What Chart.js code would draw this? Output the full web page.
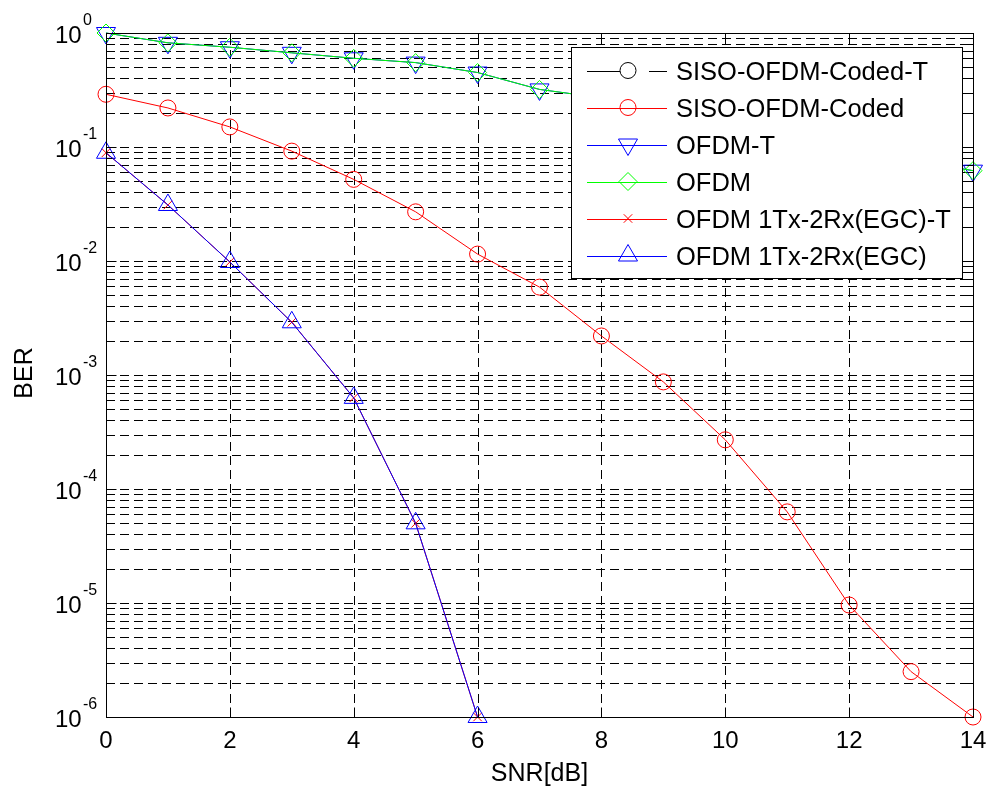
<!DOCTYPE html>
<html>
<head>
<meta charset="utf-8">
<script src="https://cdn.jsdelivr.net/npm/chart.js@4.4.1/dist/chart.umd.min.js"></script>
<style>
  html, body { margin: 0; padding: 0; background: #fff; }
  canvas { display: block; }
</style>
</head>
<body>
<canvas id="graph" width="989" height="787"></canvas>
<script>
// SNR axis (dB)
const snr = [0, 1, 2, 3, 4, 5, 6, 7, 8, 9, 10, 11, 12, 13, 14];
const snrEgc = [0, 1, 2, 3, 4, 5, 6];

// BER
const berCodedT = [0.29, 0.22, 0.15, 0.092, 0.052, 0.027, 0.0115, 0.0059, 0.0022, 0.00087, 0.00027, 6.3e-5, 9.6e-6, 2.5e-6, 1e-6];
const berCoded  = [0.29, 0.22, 0.15, 0.092, 0.052, 0.027, 0.0115, 0.0059, 0.0022, 0.00087, 0.00027, 6.3e-5, 9.6e-6, 2.5e-6, 1e-6];
const berOfdmT  = [1.0, 0.82, 0.75, 0.67, 0.60, 0.55, 0.45, 0.32, 0.27, 0.21, 0.16, 0.12, 0.095, 0.077, 0.062];
const berOfdm   = [1.0, 0.82, 0.75, 0.67, 0.60, 0.55, 0.45, 0.32, 0.27, 0.21, 0.16, 0.12, 0.095, 0.077, 0.062];
const berEgcT   = [0.089, 0.031, 0.0098, 0.0029, 0.00063, 5e-5, 1e-6];
const berEgc    = [0.089, 0.031, 0.0098, 0.0029, 0.00063, 5e-5, 1e-6];

// axes ticks
const xTicks = [0, 2, 4, 6, 8, 10, 12, 14];
const yExponents = [0, -1, -2, -3, -4, -5, -6];
const yMantissas = [1, 2, 3, 4, 5, 6, 7, 8, 9];
const xTitle = "SNR[dB]";
const yTitle = "BER";

const FONT = '"Liberation Sans", Arial, Helvetica, sans-serif';
const NONE = "rgba(0,0,0,0)";

function pts(xs, ys) {
  return ys.map((v, i) => ({ x: xs[i], y: v }));
}

function series(label, xs, ys, color, style, radius, rotation, order, dash) {
  return {
    label,
    data: pts(xs, ys),
    borderColor: color,
    backgroundColor: NONE,
    borderWidth: 1,
    borderDash: dash || [],
    pointStyle: style,
    pointRadius: radius,
    pointHoverRadius: radius,
    pointRotation: rotation,
    pointBorderColor: color,
    pointBackgroundColor: NONE,
    pointBorderWidth: 1,
    tension: 0,
    fill: false,
    clip: false,
    order
  };
}

const codedT = series("SISO-OFDM-Coded-T", snr, berCodedT, "#000000", "circle", 8, 0, 6, [33, 29]);
// lies exactly under the red curve in the picture, so it only shows in the legend
codedT.hidden = true;

const datasets = [
  codedT,
  series("SISO-OFDM-Coded", snr, berCoded, "#ff0000", "circle", 8, 0, 5),
  series("OFDM-T", snr, berOfdmT, "#0000ff", "triangle", 11, 180, 4),
  series("OFDM", snr, berOfdm, "#00ff00", "rectRot", 9, 0, 3),
  series("OFDM 1Tx-2Rx(EGC)-T", snrEgc, berEgcT, "#ff0000", "crossRot", 6, 0, 2),
  series("OFDM 1Tx-2Rx(EGC)", snrEgc, berEgc, "#0000ff", "triangle", 11, 0, 1)
];

function yGridValues() {
  const out = [];
  yExponents.forEach(k => yMantissas.forEach(m => {
    const v = m * Math.pow(10, k);
    if (v <= 1.0000001) out.push(v);
  }));
  return out;
}

// MATLAB-like axes: dashed grid, box, inward ticks, 10^n labels, legend
const matlabAxes = {
  id: "matlabAxes",
  beforeDatasetsDraw(chart) {
    const { ctx, chartArea: a, scales: { x, y } } = chart;
    ctx.save();
    ctx.strokeStyle = "#000";
    ctx.lineWidth = 1;
    ctx.setLineDash([9, 5]);
    ctx.beginPath();
    yGridValues().forEach(v => {
      const py = Math.round(y.getPixelForValue(v)) + 0.5;
      if (py < a.top + 2 || py > a.bottom - 2) return;
      ctx.moveTo(a.left, py);
      ctx.lineTo(a.right, py);
    });
    xTicks.forEach(v => {
      const px = Math.round(x.getPixelForValue(v)) + 0.5;
      if (px < a.left + 2 || px > a.right - 2) return;
      ctx.moveTo(px, a.bottom);
      ctx.lineTo(px, a.top);
    });
    ctx.stroke();
    ctx.restore();
  },
  afterDatasetsDraw(chart) {
    const { ctx, chartArea: a, scales: { x, y } } = chart;
    const L = Math.round(a.left) + 0.5, R = Math.round(a.right) + 0.5;
    const T = Math.round(a.top) + 0.5, B = Math.round(a.bottom) + 0.5;
    ctx.save();
    ctx.setLineDash([]);
    ctx.strokeStyle = "#000";
    ctx.lineWidth = 1;
    ctx.strokeRect(L, T, R - L, B - T);

    // inward ticks
    ctx.beginPath();
    yGridValues().forEach(v => {
      const py = Math.round(y.getPixelForValue(v)) + 0.5;
      const len = Math.abs(Math.log10(v) - Math.round(Math.log10(v))) < 1e-6 ? 10 : 6;
      ctx.moveTo(L, py); ctx.lineTo(L + len, py);
      ctx.moveTo(R, py); ctx.lineTo(R - len, py);
    });
    xTicks.forEach(v => {
      const px = Math.round(x.getPixelForValue(v)) + 0.5;
      ctx.moveTo(px, B); ctx.lineTo(px, B - 10);
      ctx.moveTo(px, T); ctx.lineTo(px, T + 10);
    });
    ctx.stroke();

    // tick labels
    ctx.fillStyle = "#000";
    ctx.textBaseline = "alphabetic";
    ctx.textAlign = "center";
    ctx.font = "24px " + FONT;
    xTicks.forEach(v => {
      ctx.fillText(String(v), x.getPixelForValue(v), 748);
    });
    yExponents.forEach(k => {
      const py = y.getPixelForValue(Math.pow(10, k));
      ctx.textAlign = "left";
      ctx.font = "24px " + FONT;
      ctx.fillText("10", 55, py + 9.5);
      ctx.font = "16px " + FONT;
      ctx.fillText(String(k), 83, py - 8.5);
    });

    // axis titles
    ctx.font = "25px " + FONT;
    ctx.textAlign = "center";
    ctx.fillText(xTitle, (a.left + a.right) / 2, 781);
    ctx.save();
    ctx.translate(32, 373);
    ctx.rotate(-Math.PI / 2);
    ctx.fillText(yTitle, 0, 0);
    ctx.restore();

    // legend
    const box = { left: 571.5, top: 47.5, width: 391, height: 231 };
    ctx.fillStyle = "#fff";
    ctx.fillRect(box.left, box.top, box.width, box.height);
    ctx.strokeRect(box.left, box.top, box.width, box.height);
    chart.data.datasets.forEach((ds, i) => {
      const cy = 70.5 + i * 37;
      ctx.strokeStyle = ds.borderColor;
      ctx.lineWidth = 1;
      ctx.setLineDash(ds.borderDash || []);
      ctx.beginPath();
      ctx.moveTo(587, Math.round(cy) + 0.5);
      ctx.lineTo(667, Math.round(cy) + 0.5);
      ctx.stroke();
      ctx.setLineDash([]);
      ctx.fillStyle = NONE;
      Chart.helpers.drawPoint(ctx, {
        pointStyle: ds.pointStyle,
        radius: ds.pointRadius,
        rotation: ds.pointRotation,
        borderWidth: 1
      }, 628, cy);
      ctx.fillStyle = "#000";
      ctx.textAlign = "left";
      ctx.font = "25.5px " + FONT;
      ctx.fillText(ds.label, 676, cy + 9.5);
    });
    ctx.restore();
  }
};

new Chart(document.getElementById("graph"), {
  type: "line",
  data: { datasets },
  options: {
    responsive: false,
    animation: false,
    devicePixelRatio: 1,
    events: [],
    layout: { padding: { left: 0, top: 33, right: 16, bottom: 0 } },
    plugins: { legend: { display: false }, tooltip: { enabled: false } },
    scales: {
      x: {
        type: "linear", min: 0, max: 14,
        ticks: { display: false, stepSize: 2 },
        grid: { display: false },
        border: { display: false },
        afterFit: s => { s.height = 70; }
      },
      y: {
        type: "logarithmic", min: 1e-6, max: 1,
        ticks: { display: false },
        grid: { display: false },
        border: { display: false },
        afterFit: s => { s.width = 106; }
      }
    }
  },
  plugins: [matlabAxes]
});
</script>
</body>
</html>
